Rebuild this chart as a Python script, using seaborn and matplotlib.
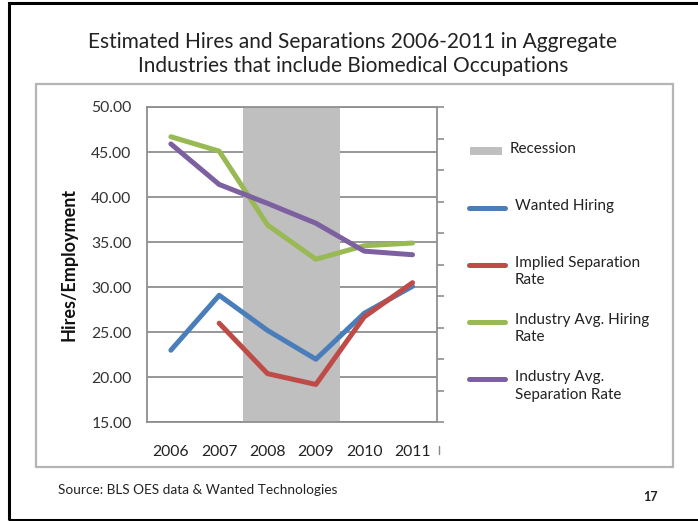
import numpy as np
import pandas as pd
import matplotlib
matplotlib.use("Agg")
import matplotlib.pyplot as plt
from matplotlib.lines import Line2D
from matplotlib.patches import Rectangle
import seaborn as sns

# ---- data -------------------------------------------------------------
years = [2006, 2007, 2008, 2009, 2010, 2011]
wanted_hiring = [23.0, 29.1, 25.2, 22.0, 27.1, 30.1]
implied_separation = [np.nan, 26.0, 20.4, 19.2, 26.7, 30.5]
industry_hiring = [46.7, 45.1, 36.9, 33.1, 34.6, 34.9]
industry_separation = [45.9, 41.4, 39.3, 37.1, 34.0, 33.6]

series_names = ["Wanted Hiring", "Implied Separation Rate",
                "Industry Avg. Hiring Rate", "Industry Avg. Separation Rate"]
legend_labels = ["Wanted Hiring", "Implied Separation\nRate",
                 "Industry Avg. Hiring\nRate", "Industry Avg.\nSeparation Rate"]
series_colors = ["#4a7ebb", "#be4b48", "#98b954", "#7d60a0"]
recession_span = (2007.5, 2009.5)
y_ticks = [15, 20, 25, 30, 35, 40, 45, 50]

title_text = ("Estimated Hires and Separations 2006-2011 in Aggregate\n"
              "Industries that include Biomedical Occupations")
source_text = "Source: BLS OES data & Wanted Technologies"
page_number = "17"

# ---- long table for seaborn ------------------------------------------
values = [wanted_hiring, implied_separation, industry_hiring, industry_separation]
df = pd.DataFrame({
    "year": np.tile(years, len(series_names)),
    "series": np.repeat(series_names, len(years)),
    "value": np.concatenate(values),
})

sns.set_theme(style="white")
plt.rcParams["font.family"] = ["Lato", "DejaVu Sans"]

W, H = 698, 521
fig = plt.figure(figsize=(W / 100, H / 100), dpi=100)


def fx(px):
    return px / W


def fy(py):
    return 1 - py / H


# slide frame and chart box
fig.add_artist(Rectangle((fx(9), fy(520)), fx(720) - fx(9), fy(3) - fy(520),
                         transform=fig.transFigure, fill=False,
                         edgecolor="black", linewidth=2.2))
fig.add_artist(Rectangle((fx(35.7), fy(466.7)), fx(672.7) - fx(35.7),
                         fy(84.3) - fy(466.7), transform=fig.transFigure,
                         fill=False, edgecolor="#b5b5b5", linewidth=1.6))

ax_l, ax_r, ax_t, ax_b = 146.7, 436.7, 107.0, 422.3
ax = fig.add_axes([fx(ax_l), fy(ax_b), fx(ax_r) - fx(ax_l), fy(ax_t) - fy(ax_b)])

grid_color = "#8f8f8f"
ax.set_xlim(2005.5, 2011.5)
ax.set_ylim(15, 50)
ax.set_yticks(y_ticks)
ax.set_yticklabels([f"{v:.2f}" for v in y_ticks])
for v in y_ticks:
    ax.axhline(v, color=grid_color, linewidth=1.3, zorder=0.5)

ax.axvspan(*recession_span, color="#bfbfbf", linewidth=0, zorder=1)

sns.lineplot(data=df, x="year", y="value", hue="series", hue_order=series_names,
             palette=series_colors, linewidth=3.6, ax=ax, legend=False,
             solid_capstyle="round", zorder=3)

ax.set_xticks(years)
ax.set_xticklabels([str(y) for y in years])
ax.tick_params(axis="x", length=0, pad=16, labelsize=11.3, colors="#222222")
ax.tick_params(axis="y", length=0, pad=11, labelsize=11.3, colors="#333333")
ax.set_xlabel("")
ax.set_ylabel("Hires/Employment", fontsize=13, fontweight="bold",
              color="#111111", labelpad=10)
for side in ["left", "bottom", "top"]:
    ax.spines[side].set_color(grid_color)
    ax.spines[side].set_linewidth(1.3)
ax.spines["right"].set_visible(False)

# secondary axis on the right with unlabeled ticks
ax2 = ax.twinx()
ax2.set_ylim(0, 10)
ax2.set_yticks(range(11))
ax2.set_yticklabels([])
ax2.tick_params(axis="y", direction="out", length=5, width=1.2, color=grid_color)
for side in ["left", "bottom", "top"]:
    ax2.spines[side].set_visible(False)
ax2.spines["right"].set_color(grid_color)
ax2.spines["right"].set_linewidth(1.3)
ax2.grid(False)

# small marker after the last category label
ax.add_line(Line2D([1.009, 1.009], [-0.076, -0.102], transform=ax.transAxes,
                   color="#888888", linewidth=1.0, clip_on=False))

# title
fig.text(fx(353), fy(54), title_text, ha="center", va="center",
         fontsize=15, color="#222222", linespacing=1.3)

# legend entries
fig.add_artist(Rectangle((fx(470), fy(155.3)), fx(502) - fx(470),
                         fy(147.3) - fy(155.3), transform=fig.transFigure,
                         facecolor="#bfbfbf", edgecolor="none"))
fig.text(fx(510), fy(149), "Recession", ha="left", va="center",
         fontsize=11, color="#222222")
handle_y = [207.7, 264.7, 321.7, 379.3]
for yy, lab, col in zip(handle_y, legend_labels, series_colors):
    fig.add_artist(Line2D([fx(469), fx(505)], [fy(yy), fy(yy)],
                          transform=fig.transFigure, color=col,
                          linewidth=3.6, solid_capstyle="round"))
    fig.text(fx(515), fy(yy - 9), lab, ha="left", va="top",
             fontsize=11, color="#222222", linespacing=1.3)

# footer
fig.text(fx(58), fy(490), source_text, ha="left", va="center",
         fontsize=9.8, color="#222222")
fig.text(fx(650), fy(497), page_number, ha="center", va="center",
         fontsize=9, fontweight="bold", color="#222222")

fig.savefig("out.png", dpi=100)
